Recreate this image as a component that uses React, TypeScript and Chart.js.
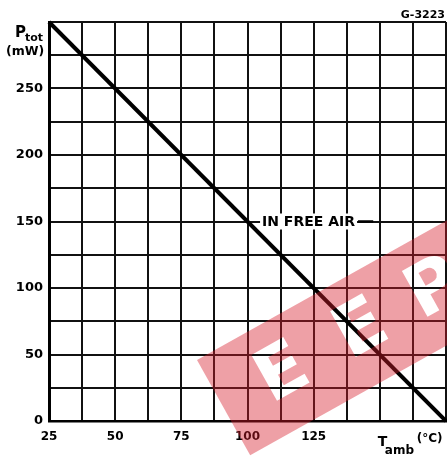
import React, { useEffect, useRef } from 'react';
import { Chart, registerables } from 'chart.js';

Chart.register(...registerables);

// Derating curve: total power vs ambient temperature
const tempC = [25, 175];
const powerMW = [300, 0];
const xLabelValues = [25, 50, 75, 100, 125];
const yLabelValues = [0, 50, 100, 150, 200, 250];
const xTitleParts = ['T', 'amb', '(°C)'];
const yTitleParts = ['P', 'tot', '(mW)'];
const curveLabel = 'IN FREE AIR';
const figureCode = 'G-3223';
const watermarkText = ['E', 'E', 'P'];

const FONT = '"DejaVu Sans", sans-serif';

const decorPlugin = {
  id: 'decor',
  afterDraw(chart: any) {
    const ctx: CanvasRenderingContext2D = chart.ctx;
    const xs = chart.scales.x;
    const ys = chart.scales.y;
    ctx.save();
    ctx.fillStyle = '#000';
    ctx.textBaseline = 'alphabetic';
    ctx.textAlign = 'left';

    // Y title
    ctx.font = `bold 15px ${FONT}`;
    ctx.fillText(yTitleParts[0], 15, 37);
    ctx.font = `bold 11px ${FONT}`;
    ctx.fillText(yTitleParts[1], 25, 41);
    ctx.font = `bold 12.5px ${FONT}`;
    ctx.fillText(yTitleParts[2], 6, 55);

    // X title at 150 position
    const tx = xs.getPixelForValue(150) - 2;
    ctx.font = `bold 14px ${FONT}`;
    ctx.fillText(xTitleParts[0], tx, 446);
    ctx.font = `bold 12px ${FONT}`;
    ctx.fillText(xTitleParts[1], tx + 7, 454);
    ctx.font = `bold 12px ${FONT}`;
    ctx.fillText(xTitleParts[2], tx + 39, 442);

    // figure code
    ctx.font = `bold 11px ${FONT}`;
    ctx.textAlign = 'right';
    ctx.fillText(figureCode, 445, 18);

    // curve label
    const ly = ys.getPixelForValue(150);
    const lx0 = xs.getPixelForValue(105.5);
    ctx.font = `bold 14px ${FONT}`;
    ctx.textAlign = 'left';
    ctx.textBaseline = 'middle';
    const w = ctx.measureText(curveLabel).width;
    ctx.fillStyle = '#fff';
    ctx.fillRect(lx0 - 2, ly - 8, w + 4, 16);
    ctx.fillStyle = '#000';
    ctx.fillText(curveLabel, lx0, ly + 1);
    ctx.strokeStyle = '#000';
    ctx.lineWidth = 2.5;
    ctx.beginPath();
    ctx.moveTo(lx0 + w + 3, ly);
    ctx.lineTo(xs.getPixelForValue(147.5), ly);
    ctx.stroke();
    ctx.restore();

    // watermark band with cut-out letters
    const off = document.createElement('canvas');
    off.width = chart.width;
    off.height = chart.height;
    const o = off.getContext('2d') as CanvasRenderingContext2D;
    o.translate(197, 360);
    o.rotate((-29.2 * Math.PI) / 180);
    o.fillStyle = 'rgb(215,30,45)';
    o.fillRect(0, 0, 520, 109);
    o.globalCompositeOperation = 'destination-out';
    o.font = `bold 72px ${FONT}`;
    o.textAlign = 'center';
    o.textBaseline = 'middle';
    const us = [68, 158, 242];
    watermarkText.forEach((t, i) => o.fillText(t, us[i], 56));
    ctx.save();
    ctx.globalAlpha = 0.42;
    ctx.drawImage(off, 0, 0);
    ctx.restore();
  },
};

export default function App() {
  const ref = useRef<HTMLCanvasElement>(null);
  useEffect(() => {
    if (!ref.current) return;
    const chart = new Chart(ref.current, {
      type: 'scatter',
      data: {
        datasets: [
          {
            data: tempC.map((x, i) => ({ x, y: powerMW[i] })),
            showLine: true,
            borderColor: '#000',
            borderWidth: 4,
            pointRadius: 0,
            clip: 4,
          } as any,
        ],
      },
      options: {
        responsive: false,
        animation: false,
        devicePixelRatio: 1,
        layout: { padding: { top: 22, right: 1, left: 0, bottom: 0 } },
        plugins: { legend: { display: false }, tooltip: { enabled: false } },
        scales: {
          x: {
            type: 'linear',
            min: 25,
            max: 175,
            afterFit: (s: any) => {
              s.height = 36;
              s.paddingLeft = 0;
              s.paddingRight = 0;
            },
            border: { display: true, color: '#000', width: 2.5 },
            grid: { color: '#111', lineWidth: 2, drawTicks: false },
            ticks: {
              stepSize: 12.5,
              autoSkip: false,
              maxRotation: 0,
              padding: 9,
              color: '#000',
              font: { family: FONT, size: 12, weight: 'bold' },
              callback: (v: any) => (xLabelValues.includes(Number(v)) ? String(v) : ''),
            },
          },
          y: {
            type: 'linear',
            min: 0,
            max: 300,
            afterFit: (s: any) => {
              s.width = 49;
              s.paddingTop = 0;
              s.paddingBottom = 0;
            },
            border: { display: true, color: '#000', width: 3 },
            grid: { color: '#111', lineWidth: 2, drawTicks: false },
            ticks: {
              stepSize: 25,
              autoSkip: false,
              padding: 6,
              color: '#000',
              font: { family: FONT, size: 13, weight: 'bold' },
              callback: (v: any) => (yLabelValues.includes(Number(v)) ? String(v) : ''),
            },
          },
        },
      },
      plugins: [decorPlugin],
    });
    return () => chart.destroy();
  }, []);
  return (
    <div style={{ position: 'absolute', left: 0, top: 0, width: 447, height: 457, background: '#fff' }}>
      <canvas ref={ref} width={447} height={457} />
    </div>
  );
}
